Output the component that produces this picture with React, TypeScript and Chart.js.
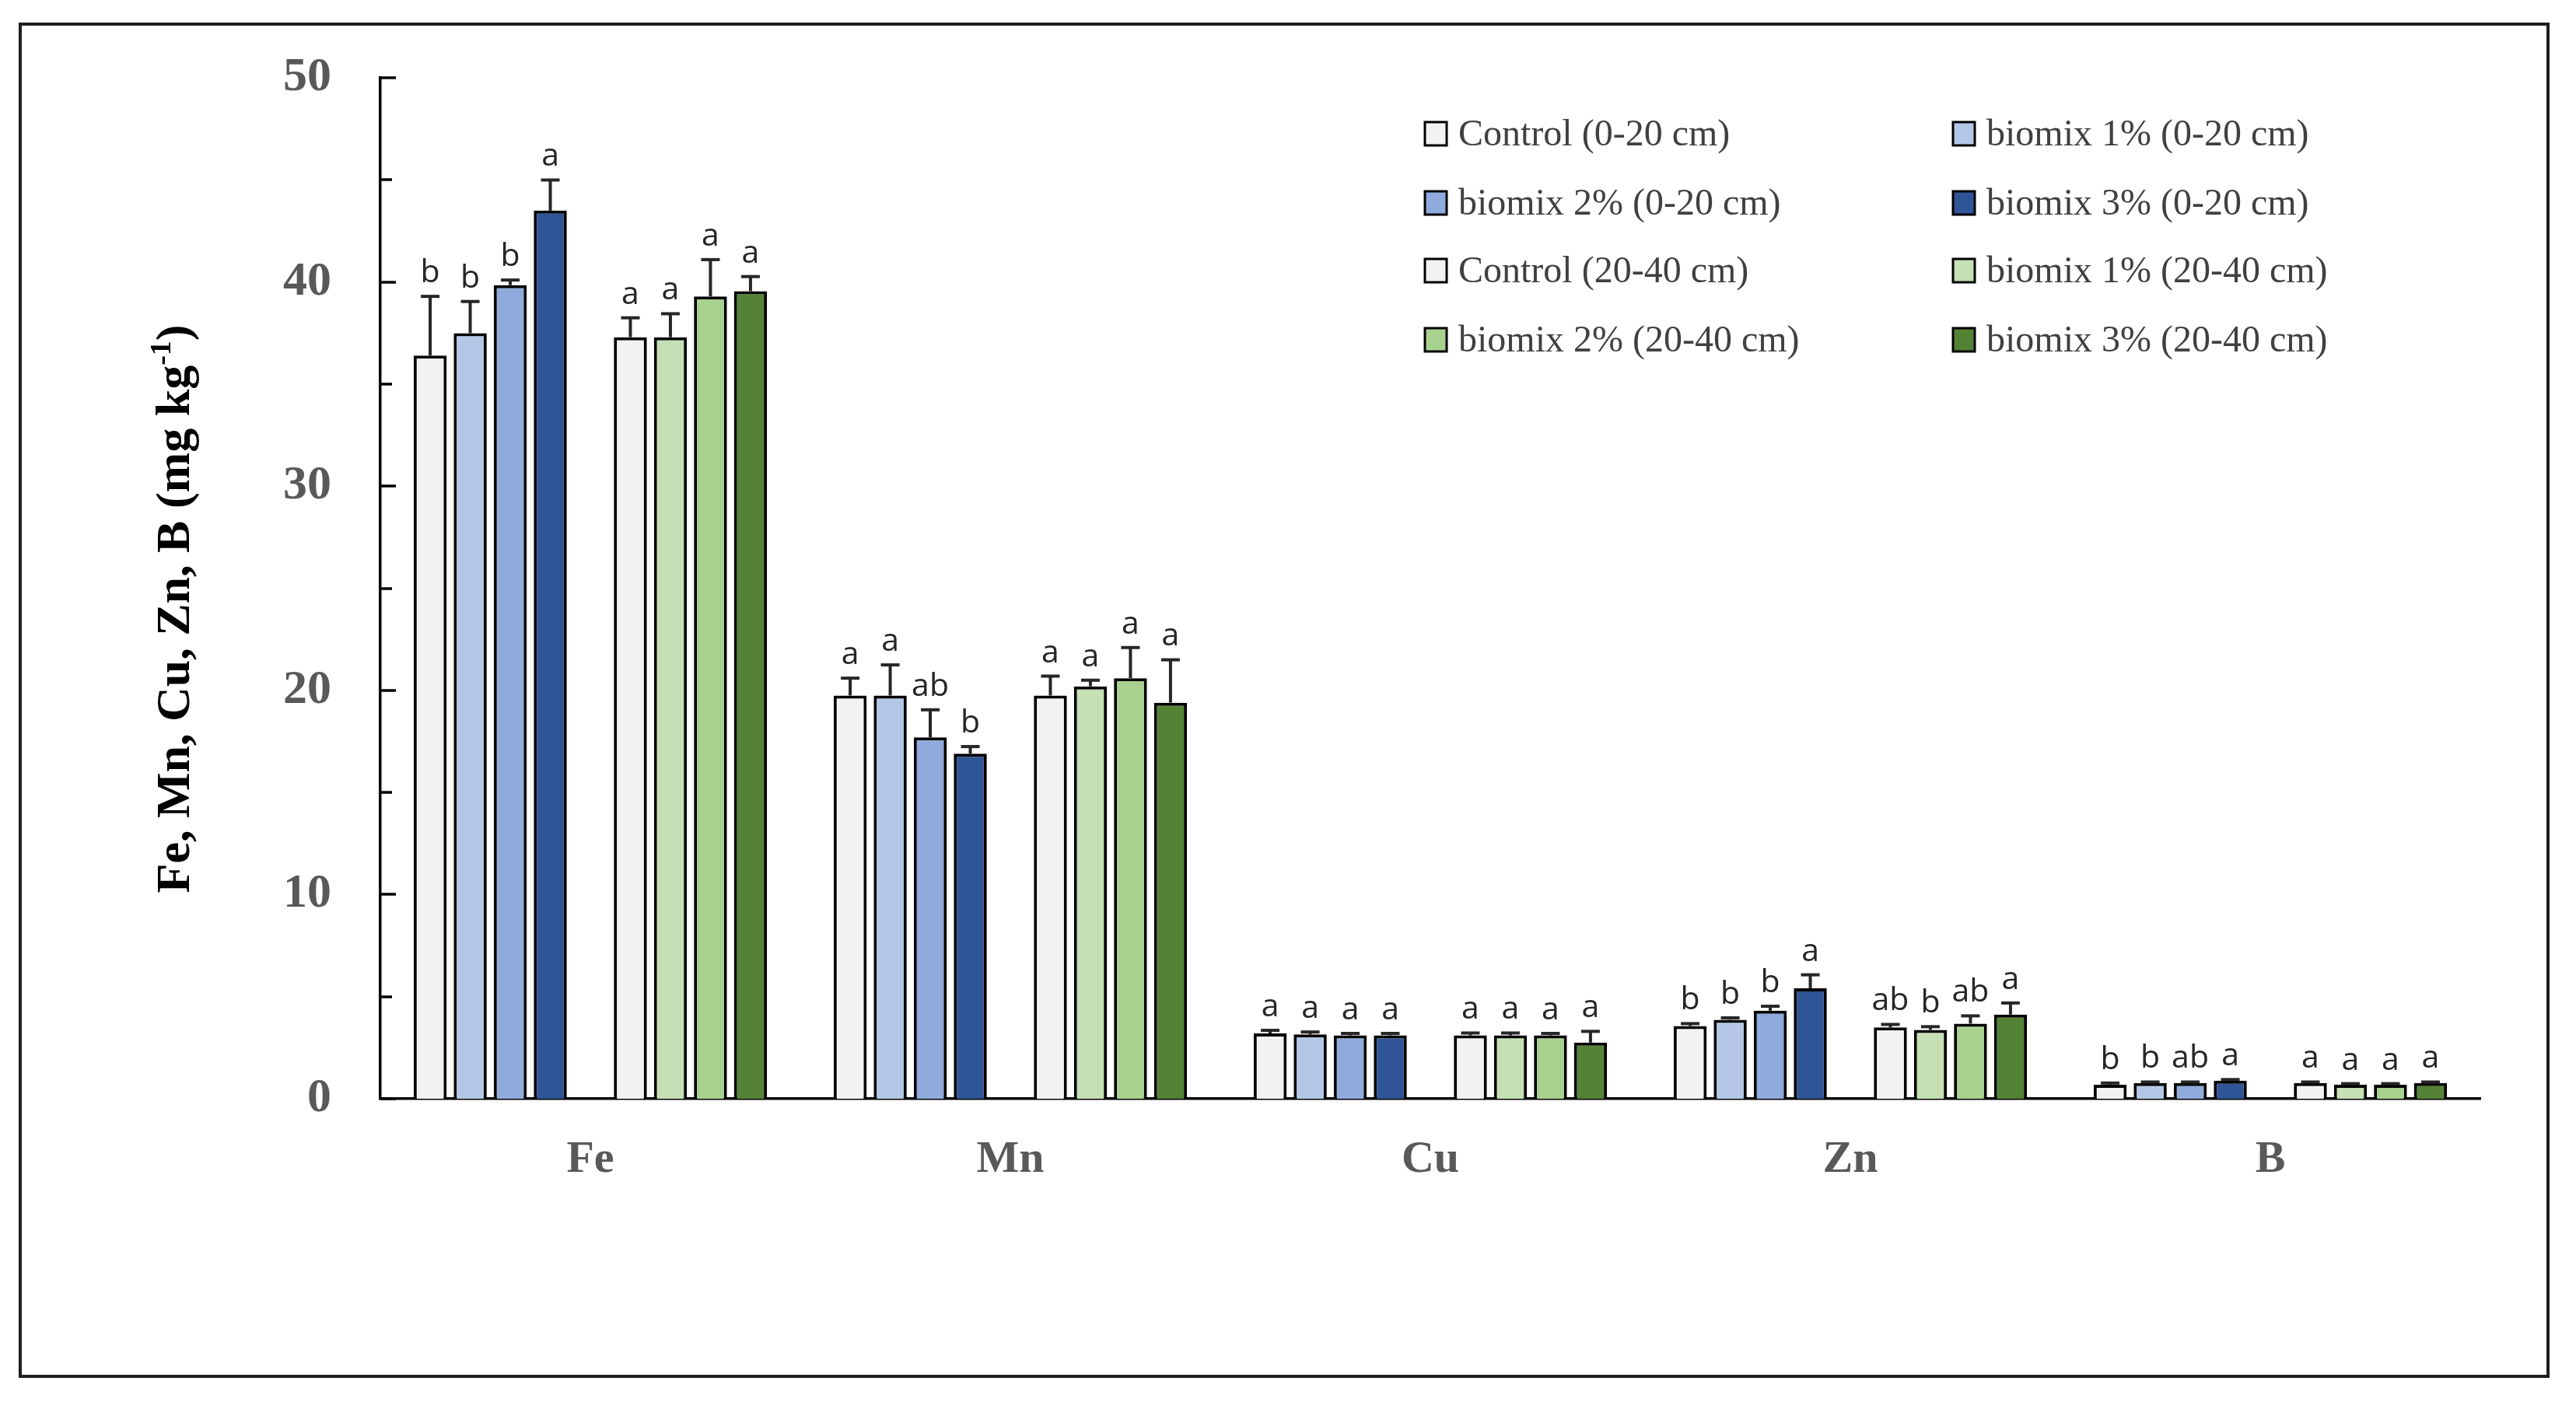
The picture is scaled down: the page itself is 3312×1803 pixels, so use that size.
import React, { useEffect, useRef } from 'react';
import { Chart, registerables } from 'chart.js';
Chart.register(...registerables);

const W = 3312;
const H = 1803;

const categories = ['Fe', 'Mn', 'Cu', 'Zn', 'B'];

const seriesLabels = [
  'Control (0-20 cm)',
  'biomix 1% (0-20 cm)',
  'biomix 2% (0-20 cm)',
  'biomix 3% (0-20 cm)',
  'Control (20-40 cm)',
  'biomix 1% (20-40 cm)',
  'biomix 2% (20-40 cm)',
  'biomix 3% (20-40 cm)',
];

const seriesColors = ['#F2F2F2', '#B4C7E7', '#8FAADC', '#2F5597', '#F2F2F2', '#C5E0B4', '#A9D18E', '#548235'];

const control0 = [36.4, 19.75, 3.2, 3.56, 0.69];
const biomix1_0 = [37.5, 19.75, 3.15, 3.87, 0.77];
const biomix2_0 = [39.85, 17.7, 3.1, 4.31, 0.77];
const biomix3_0 = [43.5, 16.9, 3.1, 5.41, 0.89];
const control20 = [37.3, 19.75, 3.1, 3.49, 0.77];
const biomix1_20 = [37.3, 20.2, 3.1, 3.37, 0.69];
const biomix2_20 = [39.3, 20.6, 3.1, 3.68, 0.69];
const biomix3_20 = [39.55, 19.4, 2.75, 4.12, 0.77];

const errControl0 = [2.9, 0.85, 0.15, 0.12, 0.08];
const errBiomix1_0 = [1.55, 1.5, 0.12, 0.09, 0.05];
const errBiomix2_0 = [0.25, 1.35, 0.1, 0.22, 0.05];
const errBiomix3_0 = [1.5, 0.35, 0.1, 0.66, 0.05];
const errControl20 = [0.95, 0.95, 0.12, 0.15, 0.05];
const errBiomix1_20 = [1.15, 0.3, 0.12, 0.16, 0.05];
const errBiomix2_20 = [1.8, 1.5, 0.1, 0.38, 0.05];
const errBiomix3_20 = [0.72, 2.1, 0.55, 0.57, 0.05];

const letControl0 = ['b', 'a', 'a', 'b', 'b'];
const letBiomix1_0 = ['b', 'a', 'a', 'b', 'b'];
const letBiomix2_0 = ['b', 'ab', 'a', 'b', 'ab'];
const letBiomix3_0 = ['a', 'b', 'a', 'a', 'a'];
const letControl20 = ['a', 'a', 'a', 'ab', 'a'];
const letBiomix1_20 = ['a', 'a', 'a', 'b', 'a'];
const letBiomix2_20 = ['a', 'a', 'a', 'ab', 'a'];
const letBiomix3_20 = ['a', 'a', 'a', 'a', 'a'];

const yTicks = [0, 10, 20, 30, 40, 50];

const seriesValues = [control0, biomix1_0, biomix2_0, biomix3_0, control20, biomix1_20, biomix2_20, biomix3_20];
const seriesErrors = [errControl0, errBiomix1_0, errBiomix2_0, errBiomix3_0, errControl20, errBiomix1_20, errBiomix2_20, errBiomix3_20];
const seriesLetters = [letControl0, letBiomix1_0, letBiomix2_0, letBiomix3_0, letControl20, letBiomix1_20, letBiomix2_20, letBiomix3_20];

const SERIF = '"Liberation Serif", "Times New Roman", serif';
const SANS = '"Open Sans", "Noto Sans", sans-serif';

export default function App() {
  const ref = useRef<HTMLCanvasElement>(null);

  useEffect(() => {
    const canvas = ref.current;
    if (!canvas) return;

    // dataset index -> series index (empty spacer slot in the middle of each group)
    const dsSeries: (number | null)[] = [0, 1, 2, 3, null, 4, 5, 6, 7];
    const BAR_PCT = 0.825;
    const CAT_PCT = 0.858;

    const datasets = dsSeries.map((s) => {
      if (s === null) {
        return {
          label: '',
          data: categories.map(() => null),
          backgroundColor: 'rgba(0,0,0,0)',
          borderWidth: 0,
          barPercentage: BAR_PCT,
          categoryPercentage: CAT_PCT,
        };
      }
      return {
        label: seriesLabels[s],
        data: seriesValues[s],
        backgroundColor: seriesColors[s],
        borderColor: '#000000',
        borderWidth: 4,
        barPercentage: BAR_PCT,
        categoryPercentage: CAT_PCT,
      };
    });

    const framePlugin = {
      id: 'frame',
      beforeDraw(chart: any) {
        const c = chart.ctx;
        c.save();
        c.fillStyle = '#ffffff';
        c.fillRect(0, 0, chart.width, chart.height);
        c.strokeStyle = '#1e1e1e';
        c.lineWidth = 4;
        c.strokeRect(26, 31, 3250, 1739);
        c.restore();
      },
    };

    const ticksPlugin = {
      id: 'inwardTicks',
      afterDraw(chart: any) {
        const c = chart.ctx;
        const y = chart.scales.y;
        const left = chart.chartArea.left;
        c.save();
        c.strokeStyle = '#000';
        c.lineWidth = 3.5;
        for (let v = 0; v <= 50; v += 5) {
          const py = Math.round(y.getPixelForValue(v));
          const len = v % 10 === 0 ? 20 : 15;
          c.beginPath();
          c.moveTo(left, py);
          c.lineTo(left + len, py);
          c.stroke();
        }
        c.restore();
      },
    };

    const errorPlugin = {
      id: 'errorBars',
      afterDatasetsDraw(chart: any) {
        const c = chart.ctx;
        const yScale = chart.scales.y;
        c.save();
        dsSeries.forEach((s, di) => {
          if (s === null) return;
          const meta = chart.getDatasetMeta(di);
          meta.data.forEach((el: any, j: number) => {
            const v = seriesValues[s][j];
            const e = seriesErrors[s][j];
            const x = el.x;
            const yb = yScale.getPixelForValue(v);
            const yt = yScale.getPixelForValue(v + e);
            c.strokeStyle = '#262626';
            c.lineWidth = 4;
            c.beginPath();
            c.moveTo(x, yb);
            c.lineTo(x, yt);
            c.stroke();
            c.beginPath();
            c.moveTo(x - 12, yt);
            c.lineTo(x + 12, yt);
            c.stroke();
            c.fillStyle = '#262626';
            c.font = `41px ${SANS}`;
            c.textAlign = 'center';
            c.textBaseline = 'alphabetic';
            c.fillText(seriesLetters[s][j], x, yt - 18);
          });
        });
        c.restore();
      },
    };

    const legendPlugin = {
      id: 'customLegend',
      afterDraw(chart: any) {
        const c = chart.ctx;
        const colX = [1832, 2511];
        const rowY = [172, 261, 348, 437];
        c.save();
        seriesLabels.forEach((lab, i) => {
          const col = i % 2;
          const row = Math.floor(i / 2);
          const x = colX[col];
          const y = rowY[row];
          c.fillStyle = seriesColors[i];
          c.fillRect(x, y - 15, 28, 30);
          c.strokeStyle = '#000';
          c.lineWidth = 3;
          c.strokeRect(x, y - 15, 28, 30);
          c.fillStyle = '#404040';
          c.font = `48px ${SERIF}`;
          c.textAlign = 'left';
          c.textBaseline = 'middle';
          c.fillText(lab, x + 43, y + 2);
        });
        c.restore();
      },
    };

    const yTitlePlugin = {
      id: 'yTitle',
      afterDraw(chart: any) {
        const c = chart.ctx;
        const main1 = 'Fe, Mn, Cu, Zn, B (mg kg';
        const sup = '-1';
        const main2 = ')';
        const fMain = `bold 62px ${SERIF}`;
        const fSup = `bold 38px ${SERIF}`;
        c.save();
        c.font = fMain;
        const w1 = c.measureText(main1).width;
        const w3 = c.measureText(main2).width;
        c.font = fSup;
        const w2 = c.measureText(sup).width;
        const total = w1 + w2 + w3;
        c.translate(223, 783);
        c.rotate(-Math.PI / 2);
        c.fillStyle = '#000';
        c.textBaseline = 'alphabetic';
        c.textAlign = 'left';
        const base = 20;
        let x = -total / 2;
        c.font = fMain;
        c.fillText(main1, x, base);
        x += w1;
        c.font = fSup;
        c.fillText(sup, x, base - 24);
        x += w2;
        c.font = fMain;
        c.fillText(main2, x, base);
        c.restore();
      },
    };

    const chart = new Chart(canvas, {
      type: 'bar',
      data: { labels: categories, datasets: datasets as any },
      options: {
        responsive: false,
        devicePixelRatio: 1,
        animation: false,
        layout: { padding: { top: 93, right: 123, bottom: 0, left: 0 } },
        plugins: {
          legend: { display: false },
          tooltip: { enabled: false },
          title: { display: false },
        },
        scales: {
          x: {
            grid: { display: false, drawTicks: false },
            border: { display: true, color: '#000', width: 3.5 },
            ticks: {
              color: '#595959',
              font: { family: SERIF, weight: 'bold', size: 58 },
              padding: 44,
            },
            afterFit: (s: any) => {
              s.height = 390;
            },
          },
          y: {
            min: 0,
            max: 50,
            afterBuildTicks: (s: any) => {
              s.ticks = yTicks.map((v) => ({ value: v }));
            },
            grid: { display: false, drawTicks: false },
            border: { display: true, color: '#000', width: 3.5 },
            ticks: {
              color: '#595959',
              font: { family: SERIF, weight: 'bold', size: 62 },
              padding: 63,
            },
            afterFit: (s: any) => {
              s.width = 489;
            },
          },
        },
      } as any,
      plugins: [framePlugin, ticksPlugin, errorPlugin, legendPlugin, yTitlePlugin],
    });

    return () => chart.destroy();
  }, []);

  return (
    <div style={{ position: 'fixed', left: 0, top: 0, width: W, height: H, background: '#fff' }}>
      <canvas ref={ref} width={W} height={H} style={{ width: W, height: H, display: 'block' }} />
    </div>
  );
}
